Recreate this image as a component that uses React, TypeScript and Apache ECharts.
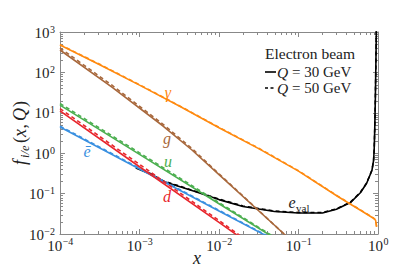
import React, { useEffect, useRef } from "react";
import * as echarts from "echarts";

// ---- data (x, f values) ----
const gammaX = [1e-4, 3.16e-4, 1e-3, 3.16e-3, 1e-2, 3.16e-2, 0.1, 0.316, 0.631, 0.865, 0.933, 0.96];
const gamma30 = [476, 155, 48.5, 14.7, 4.26, 1.3, 0.36, 0.0834, 0.0365, 0.0249, 0.0219, 0.0151];
const gamma50 = [487, 158.5, 49.6, 15.0, 4.36, 1.33, 0.368, 0.0853, 0.0373, 0.0255, 0.0224, 0.0154];

const gluonX = [1e-4, 4.5e-4, 1.98e-3, 4.57e-3, 0.01, 0.0328, 0.0638, 0.0794];
const gluon30 = [359, 43.3, 4.71, 1.2, 0.295, 0.0351, 0.0106, 0.00708];
const gluon50 = [402, 48.2, 5.2, 1.3, 0.31, 0.0357, 0.0106, 0.007];

const upX = [1e-4, 1e-3, 1e-2, 0.05];
const up30 = [15.5, 0.933, 0.0562, 0.00794];
const up50 = [17.0, 1.02, 0.06, 0.0083];

const downX = [1e-4, 1e-3, 1e-2, 0.02];
const down30 = [11.1, 0.462, 0.0193, 0.00741];
const down50 = [12.7, 0.53, 0.0216, 0.0081];

const ebarX = [1e-4, 1e-3, 1e-2, 0.0398];
const ebar30 = [4.47, 0.407, 0.0372, 0.00891];
const ebar50 = [4.68, 0.426, 0.0385, 0.0092];

const evalX = [0.0009, 0.0013, 0.002, 0.005, 0.01, 0.02, 0.05, 0.1, 0.2, 0.3, 0.45, 0.6, 0.72, 0.84, 0.88, 0.895, 0.91, 0.925, 0.94, 0.955];
const eval30 = [0.43, 0.32, 0.2, 0.112, 0.071, 0.048, 0.036, 0.033, 0.033, 0.041, 0.06, 0.105, 0.18, 0.38, 0.66, 1.2, 4, 20, 150, 1500];
const eval50 = [0.44, 0.33, 0.206, 0.115, 0.073, 0.0495, 0.037, 0.034, 0.034, 0.042, 0.0615, 0.107, 0.183, 0.385, 0.67, 1.2, 4, 20, 150, 1500];

// decade tick values (labels 10^k)
const xTicks = [1e-4, 1e-3, 1e-2, 1e-1, 1];
const yTicks = [1e-2, 1e-1, 1, 10, 100, 1000];

const X_MIN = 1e-4, X_MAX = 1, Y_MIN = 1e-2, Y_MAX = 1e3;
const FONT = "Liberation Serif";

const C = {
  gamma: "#ff8a10",
  gluon: "#a8683c",
  up: "#4caf50",
  down: "#e8262c",
  ebar: "#3a90e0",
  eval: "#000000",
  axis: "#888888",
  text: "#222222",
};

const pairs = (xs: number[], ys: number[]) => xs.map((x, i) => [x, ys[i]]);

const expText = (v: number) => {
  const e = Math.round(Math.log10(v));
  return e < 0 ? "\u2212" + Math.abs(e) : String(e);
};

const txt = (text: string, x: number, y: number, size: number, color: string, italic: boolean, align: string, extra: any = {}) => ({
  type: "text",
  x,
  y,
  silent: true,
  ...extra,
  style: {
    text,
    fill: color,
    fontFamily: FONT,
    ...(italic ? { fontStyle: "italic" } : {}),
    fontSize: size,
    align,
    verticalAlign: "middle",
  },
});

export default function App() {
  const ref = useRef<HTMLDivElement>(null);
  useEffect(() => {
    if (!ref.current) return;
    const chart = echarts.init(ref.current, null, { renderer: "svg" });

    const line = (name: string, xs: number[], ys: number[], color: string, dashed: boolean, z: number) => ({
      name,
      type: "line",
      data: pairs(xs, ys),
      showSymbol: false,
      symbol: "none",
      smooth: false,
      clip: true,
      z,
      lineStyle: { color, width: 1.6, type: dashed ? [4, 3] : "solid" },
    });

    const axisCommon = {
      type: "log",
      logBase: 10,
      axisLine: { show: true, lineStyle: { color: C.axis, width: 1 } },
      axisTick: { show: true, inside: true, length: 5, lineStyle: { color: C.axis } },
      axisLabel: { show: false },
      splitLine: { show: false },
      minorTick: { show: false },
    };

    const option: any = {
      animation: false,
      backgroundColor: "#ffffff",
      textStyle: { fontFamily: FONT },
      grid: { left: 60, right: 21, top: 32, bottom: 36, containLabel: false },
      xAxis: [
        { ...axisCommon, min: X_MIN, max: X_MAX, position: "bottom" },
        { ...axisCommon, min: X_MIN, max: X_MAX, position: "top" },
      ],
      yAxis: [
        { ...axisCommon, min: Y_MIN, max: Y_MAX, position: "left" },
        { ...axisCommon, min: Y_MIN, max: Y_MAX, position: "right" },
      ],
      series: [
        line("eval30", evalX, eval30, C.eval, false, 1),
        line("eval50", evalX, eval50, C.eval, true, 1),
        line("ebar30", ebarX, ebar30, C.ebar, false, 2),
        line("ebar50", ebarX, ebar50, C.ebar, true, 2),
        line("down30", downX, down30, C.down, false, 2),
        line("down50", downX, down50, C.down, true, 2),
        line("up30", upX, up30, C.up, false, 2),
        line("up50", upX, up50, C.up, true, 2),
        line("gluon30", gluonX, gluon30, C.gluon, false, 2),
        line("gluon50", gluonX, gluon50, C.gluon, true, 2),
        line("gamma30", gammaX, gamma30, C.gamma, false, 2),
        line("gamma50", gammaX, gamma50, C.gamma, true, 2),
      ],
    };
    chart.setOption(option);

    const graphics: any[] = [];
    const yTop = chart.convertToPixel({ yAxisIndex: 0 }, Y_MAX) as number;
    const yBot = chart.convertToPixel({ yAxisIndex: 0 }, Y_MIN) as number;
    const xL = chart.convertToPixel({ xAxisIndex: 0 }, X_MIN) as number;
    const xR = chart.convertToPixel({ xAxisIndex: 0 }, X_MAX) as number;

    // minor ticks through the library's scales
    const tickStyle = { stroke: C.axis, lineWidth: 1 };
    for (let e = -4; e < 0; e++) {
      for (let m = 2; m <= 9; m++) {
        const px = Math.round(chart.convertToPixel({ xAxisIndex: 0 }, m * Math.pow(10, e)) as number) + 0.5;
        graphics.push({ type: "line", silent: true, shape: { x1: px, y1: yBot, x2: px, y2: yBot - 3 }, style: tickStyle });
        graphics.push({ type: "line", silent: true, shape: { x1: px, y1: yTop, x2: px, y2: yTop + 3 }, style: tickStyle });
      }
    }
    for (let e = -2; e < 3; e++) {
      for (let m = 2; m <= 9; m++) {
        const py = Math.round(chart.convertToPixel({ yAxisIndex: 0 }, m * Math.pow(10, e)) as number) + 0.5;
        graphics.push({ type: "line", silent: true, shape: { x1: xL, y1: py, x2: xL + 3, y2: py }, style: tickStyle });
        graphics.push({ type: "line", silent: true, shape: { x1: xR, y1: py, x2: xR - 3, y2: py }, style: tickStyle });
      }
    }

    // tick labels 10^k, placed at the scale's positions
    const BASE = 15, SUP = 10;
    const expWidth = (s: string) => (s.startsWith("\u2212") ? 5.6 : 0) + 5 * (s.replace("\u2212", "").length);
    xTicks.forEach((v) => {
      const px = chart.convertToPixel({ xAxisIndex: 0 }, v) as number;
      const s = expText(v);
      const total = 15 + expWidth(s);
      const split = px - total / 2 + 15;
      graphics.push(txt("10", split, yBot + 12, BASE, C.text, false, "right"));
      graphics.push(txt(s, split + 0.5, yBot + 7.5, SUP, C.text, false, "left"));
    });
    yTicks.forEach((v) => {
      const py = chart.convertToPixel({ yAxisIndex: 0 }, v) as number;
      const s = expText(v);
      const right = xL - 5;
      graphics.push(txt(s, right, py - 3, SUP, C.text, false, "right"));
      graphics.push(txt("10", right - expWidth(s) - 0.5, py + 0.5, BASE, C.text, false, "right"));
    });

    // curve labels
    graphics.push(txt("\u03b3", 168, 92, 16, C.gamma, true, "center"));
    graphics.push(txt("g", 167, 138, 16, C.gluon, true, "center"));
    graphics.push(txt("u", 168, 161, 16, C.up, true, "center"));
    graphics.push(txt("\u0113", 87, 151, 16, C.ebar, true, "center"));
    graphics.push(txt("d", 167, 196, 16, C.down, true, "center"));
    graphics.push(txt("e", 292, 202, 16, C.text, true, "center"));
    graphics.push(txt("val", 296, 208, 11, C.text, false, "left"));

    // legend
    graphics.push(txt("Electron beam", 265, 53, 15.5, C.text, false, "left"));
    graphics.push({ type: "line", silent: true, shape: { x1: 265, y1: 72, x2: 276, y2: 72 }, style: { stroke: "#000", lineWidth: 1.6 } });
    graphics.push({ type: "line", silent: true, shape: { x1: 265, y1: 88, x2: 276, y2: 88 }, style: { stroke: "#000", lineWidth: 1.6, lineDash: [3, 2.5] } });
    graphics.push(txt("Q", 277, 72, 15.5, C.text, true, "left"));
    graphics.push(txt("= 30 GeV", 292, 72, 15, C.text, false, "left"));
    graphics.push(txt("Q", 277, 88, 15.5, C.text, true, "left"));
    graphics.push(txt("= 50 GeV", 292, 88, 15, C.text, false, "left"));

    // axis titles
    graphics.push(txt("x", 197, 258, 18, C.text, true, "center"));
    graphics.push({
      type: "group",
      x: 20,
      y: 131,
      rotation: Math.PI / 2,
      silent: true,
      children: [
        txt("f", -34, 0, 18, C.text, true, "left"),
        txt("i/e", -27, 4.5, 12.5, C.text, true, "left"),
        txt("(", -12, 0, 18, C.text, false, "left"),
        txt("x", -6, 0, 18, C.text, true, "left"),
        txt(",", 2.5, 0, 18, C.text, false, "left"),
        txt("Q", 10, 0, 18, C.text, true, "left"),
        txt(")", 24, 0, 18, C.text, false, "left"),
      ],
    });

    chart.setOption({ graphic: graphics });
    return () => chart.dispose();
  }, []);

  return (
    <div
      ref={ref}
      style={{ position: "fixed", left: 0, top: 0, width: 399, height: 270, background: "#fff" }}
    />
  );
}
